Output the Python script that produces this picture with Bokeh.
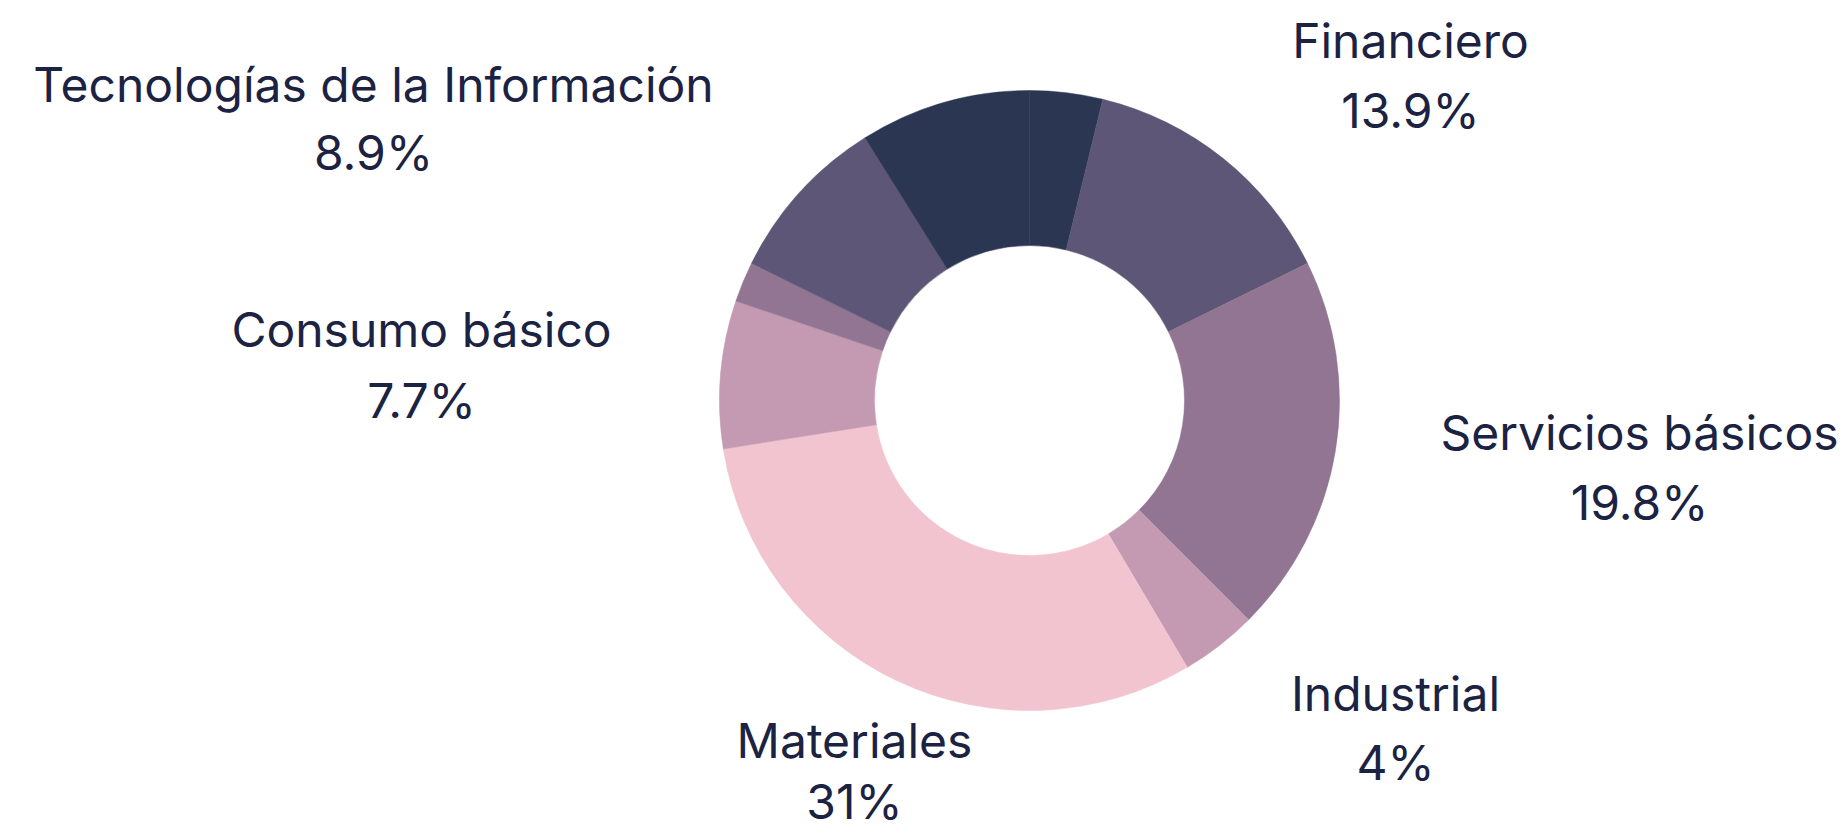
import math
from bokeh.plotting import figure
from bokeh.models import Range1d, ColumnDataSource
from bokeh.core.properties import value
from bokeh.embed import file_html
from bokeh.resources import INLINE

# ---- data (clockwise from 12 o'clock) ----
sectors = ["", "Financiero", "Servicios básicos", "Industrial", "Materiales",
           "Consumo básico", "", "", "Tecnologías de la Información"]
shares = [3.8, 13.9, 19.8, 4.0, 31.0, 7.7, 2.1, 8.8, 8.9]
share_labels = ["", "13.9%", "19.8%", "4%", "31%", "7.7%", "", "", "8.9%"]
colors = ["#2b3752", "#5d5676", "#917592", "#c39ab2", "#f2c4cf",
          "#c39ab2", "#917592", "#5d5676", "#2b3752"]

# ---- layout ----
W, H = 1844, 833
def sy(y):  # screen y -> data y
    return H - y

cx, cy = 1029, sy(400)
r_out, r_in = 310, 155

total = sum(shares)
starts, ends = [], []
acc = 0.0
for v in shares:
    a0 = math.pi / 2 - 2 * math.pi * (acc + v) / total
    a1 = math.pi / 2 - 2 * math.pi * acc / total
    starts.append(a0)
    ends.append(a1)
    acc += v

p = figure(width=W, height=H, output_backend="svg", toolbar_location=None,
           x_range=Range1d(0, W), y_range=Range1d(0, H),
           min_border=0, outline_line_color=None, background_fill_color="white",
           border_fill_color="white")
p.axis.visible = False
p.grid.visible = False

src = ColumnDataSource(dict(start=starts, end=ends, color=colors, sector=sectors, share=shares))
p.annular_wedge(x=cx, y=cy, inner_radius=r_in, outer_radius=r_out,
                start_angle="start", end_angle="end", fill_color="color",
                line_color="color", line_width=0.5, source=src)

# label anchors (screen px): centre x, middle of name line, middle of value line
label_pos = {
    "Financiero": (1410, 40, 110),
    "Servicios básicos": (1639, 432, 502),
    "Industrial": (1395, 693, 762),
    "Materiales": (854, 740, 801),
    "Consumo básico": (421, 329, 400),
    "Tecnologías de la Información": (373, 84, 152),
}
lx, ly, lt = [], [], []
for name, lab in zip(sectors, share_labels):
    if not name:
        continue
    x, y1, y2 = label_pos[name]
    lx += [x, x]
    ly += [sy(y1), sy(y2)]
    lt += [name, lab]

p.text(x=lx, y=ly, text=lt, text_font=value("Inter"), text_font_size="48px",
       text_color="#1b2242", text_align="center", text_baseline="middle")

open("out.html", "w").write(file_html(p, INLINE))
